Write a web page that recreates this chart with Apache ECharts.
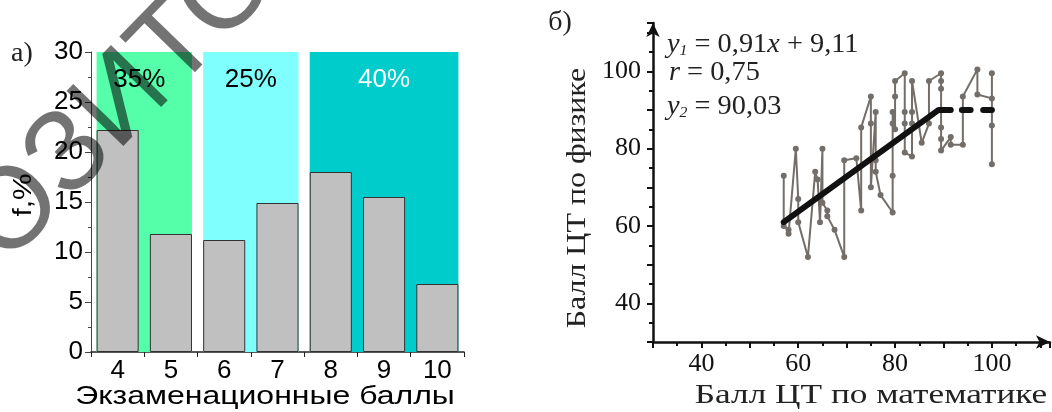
<!DOCTYPE html>
<html><head><meta charset="utf-8">
<script src="https://cdn.jsdelivr.net/npm/echarts@6/dist/echarts.min.js"></script>
<style>html,body{margin:0;padding:0;background:#fff}#c{width:1052px;height:412px}</style>
</head><body><div id="c"></div>
<script>
// ---- panel a) histogram ----
const categories = ['4', '5', '6', '7', '8', '9', '10'];
const freqValues = [22.2, 11.8, 11.2, 14.9, 18.0, 15.5, 6.8];
const bandStart = [0, 2, 4];
const bandEnd = [1, 3, 6];
const bandLabels = ['35%', '25%', '40%'];
const bandColors = ['#55FFAA', '#80FFFF', '#00CCCC'];
const bandTextColors = ['#000000', '#000000', '#FFFFFF'];
// ---- panel b) scatter ----
const mathScores = [57, 57, 58, 58, 59.5, 60, 60, 62, 63.5, 64, 64.5, 65, 65, 66, 66, 67.5, 69.5, 69.5, 72, 73, 73,
  75, 75, 75, 76, 76, 76, 77, 79.5, 79.5, 79.5, 79.5, 80, 80, 80, 82, 82, 82, 82, 83.5, 83.5, 83.5, 83.5,
  85.5, 87, 87, 89.5, 89.5, 89.5, 89.5, 89.5, 89.5, 91.5, 91.5, 94, 94, 97, 97, 100, 100, 100, 100];
const physScores = [73, 60, 59, 58, 80, 67, 61, 52, 74, 72, 61, 80, 66, 64, 62.5, 59, 52, 77, 77.5, 64, 85.5,
  93.5, 86.5, 70, 89.5, 77, 74, 68, 63.5, 73, 86.5, 89.5, 85, 93.5, 97.5, 99.5, 89.5, 86.5, 79, 78, 86.5, 89.5, 97.5,
  81.5, 86.5, 97.5, 99.5, 97.5, 95.5, 85.5, 82.5, 79.5, 83, 81, 81, 93.5, 100.5, 94, 93, 99.5, 86, 76];
const fitX = [57, 89, 91.5];
const fitY = [61.0, 90.03, 90.03];
const dashAX = [93.8, 95.6];
const dashBX = [98.2, 100];
const dashY = [90.03, 90.03];

const chart = echarts.init(document.getElementById('c'));
const SANS = '"Liberation Sans", Arial, sans-serif';
const SERIF = '"Liberation Serif", "Times New Roman", serif';

const bandData = bandStart.map((s, i) => [s, 30]);

chart.setOption({
  animation: false,
  grid: [
    {left: 91, top: 52, width: 373, height: 300, outerBoundsMode: 'none'},
    {left: 653, top: 23, width: 397, height: 319, outerBoundsMode: 'none'}
  ],
  xAxis: [
    {gridIndex: 0, type: 'category', data: categories,
      axisLine: {lineStyle: {color: '#222', width: 1.5}},
      axisTick: {show: true, length: 5, lineStyle: {color: '#222'}},
      axisLabel: {color: '#000', fontFamily: SANS, fontSize: 26, margin: 6},
      splitLine: {show: false}},
    {gridIndex: 1, type: 'value', min: 30, max: 112, interval: 10,
      axisLine: {onZero: false, lineStyle: {color: '#111', width: 2.5}, symbol: ['none', 'arrow'], symbolSize: [10, 14]},
      axisTick: {show: true, length: 6, lineStyle: {color: '#111', width: 2}},
      minorTick: {show: true, splitNumber: 2, length: 4, lineStyle: {color: '#111', width: 2}},
      axisLabel: {color: '#111', fontFamily: SERIF, fontSize: 26, margin: 9,
        formatter: v => (v % 20 === 0 && v <= 100 ? String(v) : '')},
      splitLine: {show: false}}
  ],
  yAxis: [
    {gridIndex: 0, type: 'value', min: 0, max: 30, interval: 5,
      axisLine: {show: true, lineStyle: {color: '#444', width: 1}},
      axisTick: {show: true, length: 6, lineStyle: {color: '#444'}},
      minorTick: {show: true, splitNumber: 2, length: 3, lineStyle: {color: '#444'}},
      axisLabel: {color: '#000', fontFamily: SANS, fontSize: 26, margin: 8},
      splitLine: {show: false}},
    {gridIndex: 1, type: 'value', min: 30, max: 112.5, interval: 10,
      axisLine: {show: true, onZero: false, lineStyle: {color: '#111', width: 2.5}, symbol: ['none', 'arrow'], symbolSize: [10, 14]},
      axisTick: {show: true, length: 6, lineStyle: {color: '#111', width: 2}},
      minorTick: {show: true, splitNumber: 2, length: 4, lineStyle: {color: '#111', width: 2}},
      axisLabel: {color: '#111', fontFamily: SERIF, fontSize: 26, margin: 12,
        formatter: v => (v % 20 === 0 && v <= 100 ? String(v) : '')},
      splitLine: {show: false}}
  ],
  series: [
    {type: 'custom', xAxisIndex: 0, yAxisIndex: 0, z: 1, data: bandData,
      encode: {x: 0, y: 1},
      renderItem: function (params, api) {
        const i = params.dataIndex;
        const bw = api.size([1, 0])[0] * 0.79;
        const pTop = api.coord([bandStart[i], 30]);
        const pBot = api.coord([bandEnd[i], 0]);
        const pLab = api.coord([bandStart[i], 27.2]);
        const x0 = pTop[0] - bw / 2, x1 = pBot[0] + bw / 2;
        const shift = i === 0 ? -5 : 0;
        return {type: 'group', children: [
          {type: 'rect', shape: {x: x0, y: pTop[1], width: x1 - x0, height: pBot[1] - pTop[1]},
            style: {fill: bandColors[i]}},
          {type: 'text', x: (x0 + x1) / 2 + shift, y: pLab[1],
            style: {text: bandLabels[i], fill: bandTextColors[i], font: '26px ' + SANS,
              align: 'center', verticalAlign: 'middle', textAlign: 'center', textVerticalAlign: 'middle'}}
        ]};
      }},
    {type: 'bar', xAxisIndex: 0, yAxisIndex: 0, z: 3, data: freqValues, barCategoryGap: '21%',
      itemStyle: {color: '#C0C0C0', borderColor: '#333', borderWidth: 1}},
    {type: 'line', xAxisIndex: 1, yAxisIndex: 1, z: 3,
      data: mathScores.map((x, i) => [x, physScores[i]]),
      symbol: 'circle', symbolSize: 6, showSymbol: true,
      lineStyle: {color: '#736e69', width: 2},
      itemStyle: {color: '#736e69'}},
    {type: 'line', xAxisIndex: 1, yAxisIndex: 1, z: 5, symbol: 'none',
      data: fitX.map((x, i) => [x, fitY[i]]),
      lineStyle: {color: '#111', width: 6, cap: 'round', join: 'round'}},
    {type: 'line', xAxisIndex: 1, yAxisIndex: 1, z: 5, symbol: 'none',
      data: dashAX.map((x, i) => [x, dashY[i]]),
      lineStyle: {color: '#111', width: 6, cap: 'round'}},
    {type: 'line', xAxisIndex: 1, yAxisIndex: 1, z: 5, symbol: 'none',
      data: dashBX.map((x, i) => [x, dashY[i]]),
      lineStyle: {color: '#111', width: 6, cap: 'round'}}
  ],
  graphic: [
    {type: 'text', x: 22, y: 54, style: {text: 'а)', font: '28px ' + SERIF, fill: '#222', align: 'center', verticalAlign: 'middle'}},
    {type: 'text', x: 24, y: 195, rotation: Math.PI / 2, scaleX: 1.15,
      style: {text: 'f,%', font: '26px ' + SANS, fill: '#000', align: 'center', verticalAlign: 'middle'}},
    {type: 'text', x: 265, y: 397, scaleX: 1.23,
      style: {text: 'Экзаменационные баллы', font: '26px ' + SANS, fill: '#000', align: 'center', verticalAlign: 'middle'}},
    {type: 'text', x: 560, y: 23, style: {text: 'б)', font: '28px ' + SERIF, fill: '#222', align: 'center', verticalAlign: 'middle'}},
    {type: 'text', x: 578, y: 198, rotation: Math.PI / 2, scaleX: 1.14,
      style: {text: 'Балл ЦТ по физике', font: '28px ' + SERIF, fill: '#222', align: 'center', verticalAlign: 'middle'}},
    {type: 'text', x: 871, y: 396, scaleX: 1.26,
      style: {text: 'Балл ЦТ по математике', font: '28px ' + SERIF, fill: '#222', align: 'center', verticalAlign: 'middle'}},
    {type: 'text', x: 667, y: 45, scaleX: 1.05,
      style: {text: '{i|y}{s|1} = 0,91{i|x} + 9,11', font: '27px ' + SERIF, fill: '#222', align: 'left', verticalAlign: 'middle',
        rich: {i: {fontStyle: 'italic', fontFamily: SERIF, fontSize: 27, fill: '#222'},
               s: {fontStyle: 'italic', fontFamily: SERIF, fontSize: 15, fill: '#222', verticalAlign: 'bottom', padding: [12, 0, 0, 0]}}}},
    {type: 'text', x: 669, y: 73, scaleX: 1.05,
      style: {text: '{i|r} = 0,75', font: '27px ' + SERIF, fill: '#222', align: 'left', verticalAlign: 'middle',
        rich: {i: {fontStyle: 'italic', fontFamily: SERIF, fontSize: 27, fill: '#222'}}}},
    {type: 'text', x: 667, y: 107, scaleX: 1.05,
      style: {text: '{i|y}{s|2} = 90,03', font: '27px ' + SERIF, fill: '#222', align: 'left', verticalAlign: 'middle',
        rich: {i: {fontStyle: 'italic', fontFamily: SERIF, fontSize: 27, fill: '#222'},
               s: {fontStyle: 'italic', fontFamily: SERIF, fontSize: 15, fill: '#222', verticalAlign: 'bottom', padding: [12, 0, 0, 0]}}}},
    {type: 'text', x: -140, y: 454, rotation: 0.80, z: 100,
      style: {text: 'РЕПОЗИТОРИЙ', font: '115px ' + SANS, fill: 'rgba(0,0,0,0.55)', align: 'left', verticalAlign: 'bottom'}}
  ]
});
</script></body></html>
